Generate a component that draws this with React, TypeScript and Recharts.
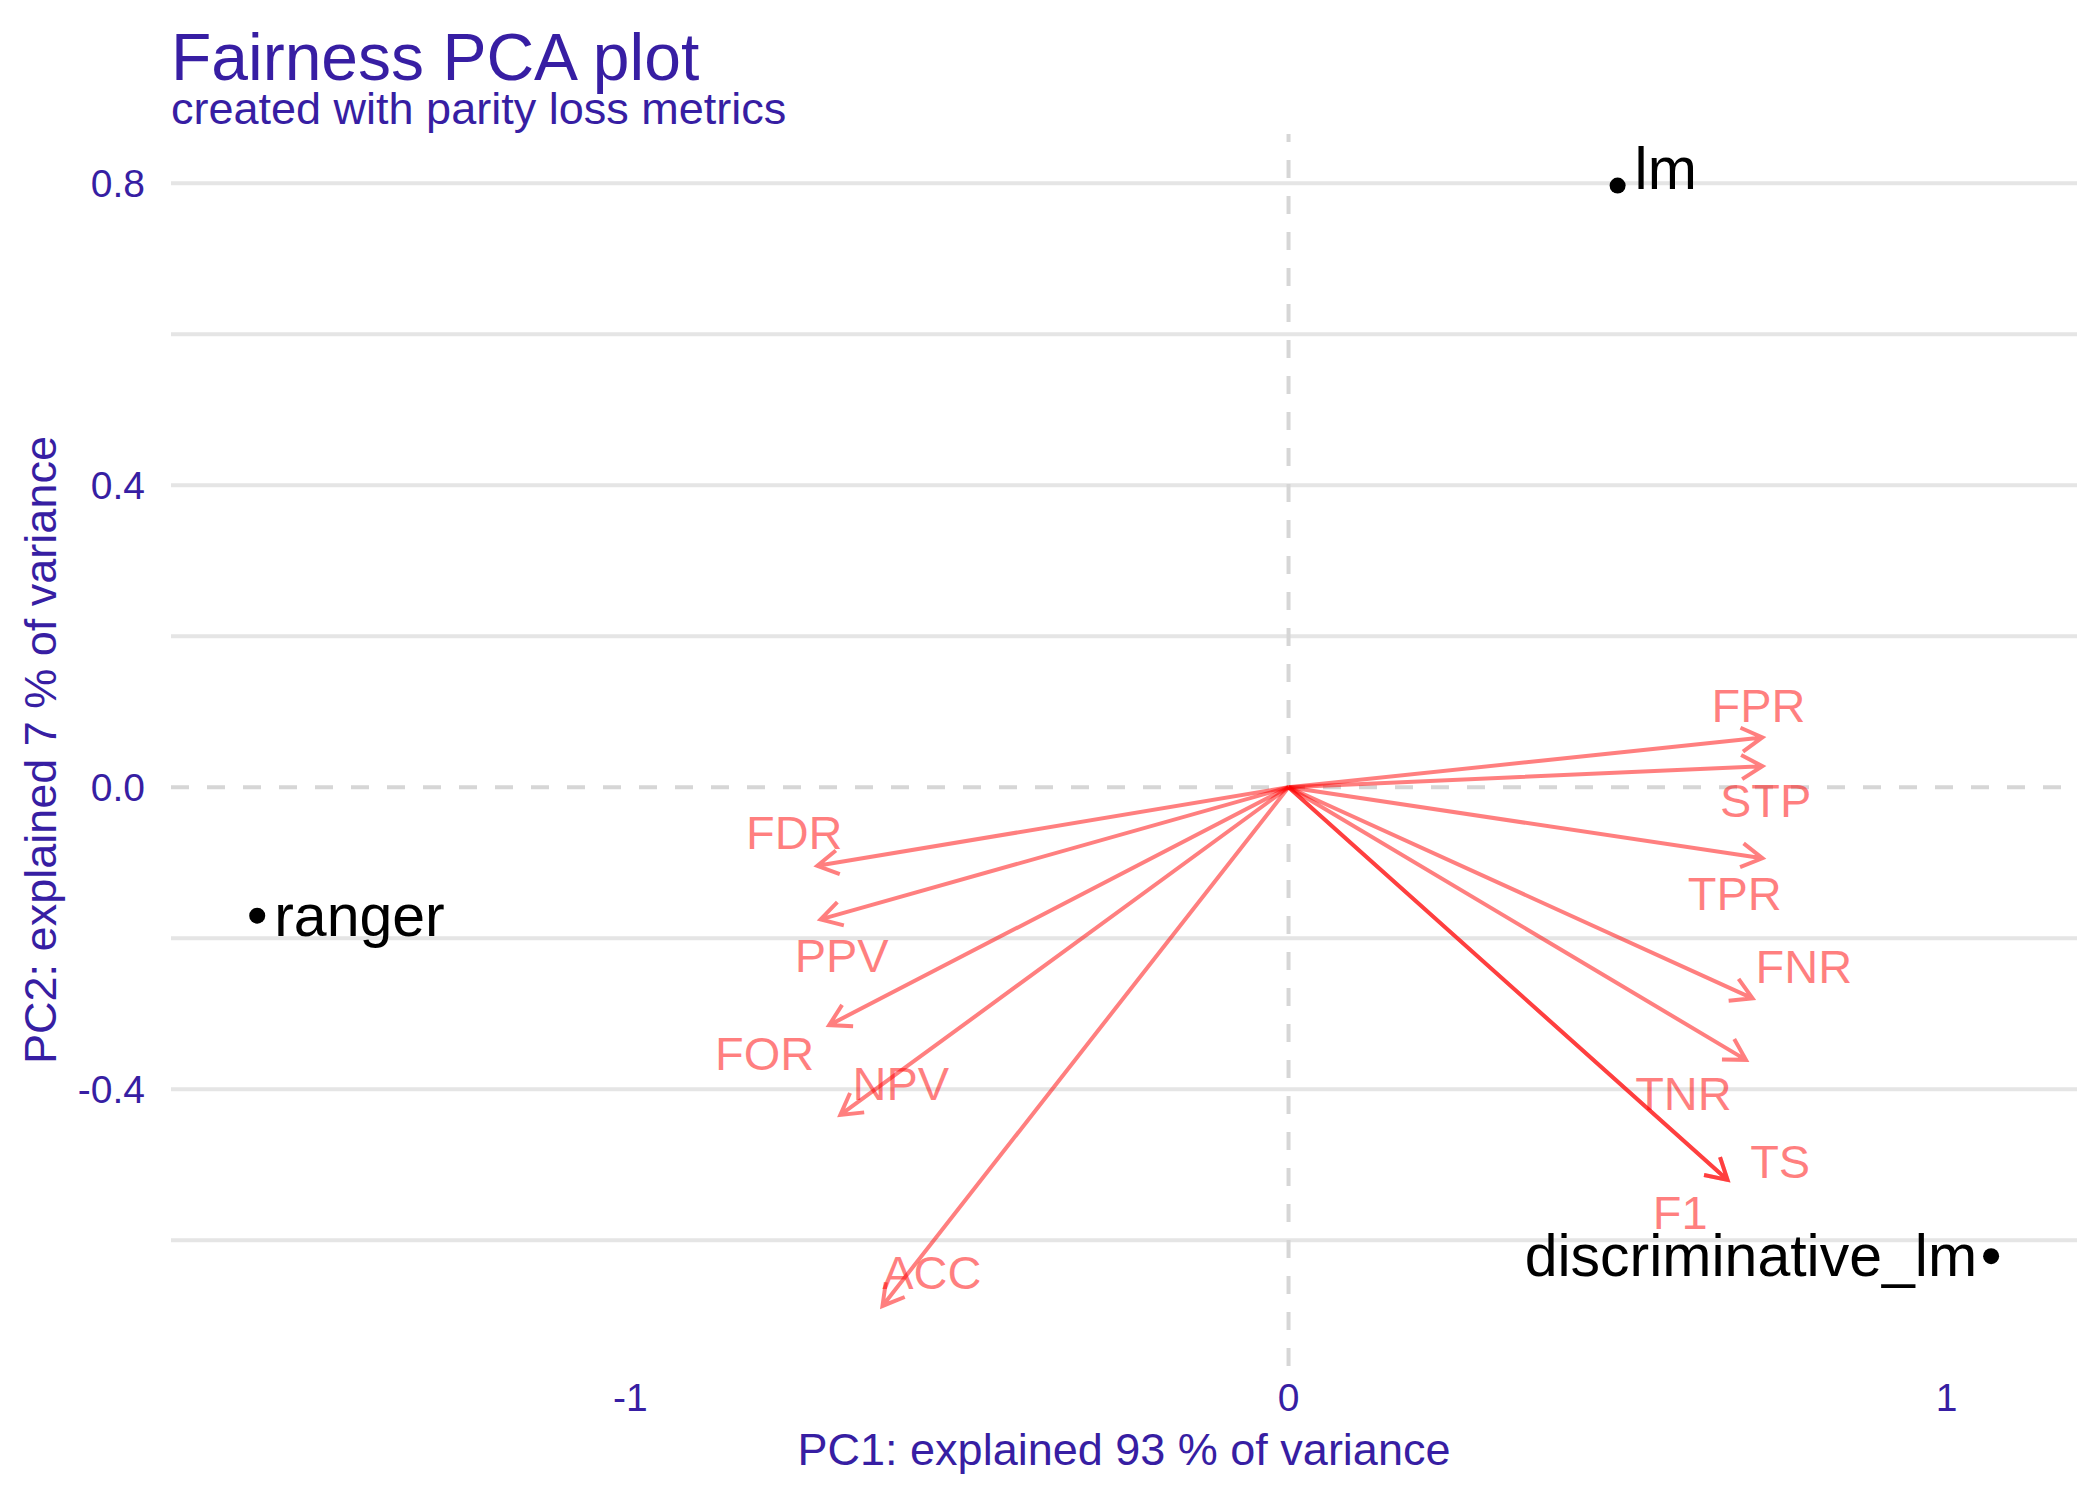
import React from 'react';
import {
  ScatterChart,
  Scatter,
  XAxis,
  YAxis,
  CartesianGrid,
  ReferenceLine,
} from 'recharts';

const FONT = '"Liberation Sans", Arial, Helvetica, sans-serif';
const PURPLE = '#371ea3';
const ARROW = 'rgba(255, 0, 0, 0.5)';

// model scores on the first two components
const modelNames = ['lm', 'ranger', 'discriminative_lm'];
const modelPC1 = [0.5, -1.567, 1.0675];
const modelPC2 = [0.797, -0.17, -0.621];

// parity loss metric loadings (arrow tips)
const metricNames = ['FPR', 'STP', 'TPR', 'FNR', 'TNR', 'TS', 'F1', 'FDR', 'PPV', 'FOR', 'NPV', 'ACC'];
const metricPC1 = [0.72, 0.72, 0.72, 0.705, 0.695, 0.667, 0.667, -0.716, -0.711, -0.698, -0.681, -0.617];
const metricPC2 = [0.066, 0.028, -0.094, -0.2795, -0.361, -0.52, -0.52, -0.104, -0.175, -0.315, -0.434, -0.687];

// repelled label positions for the metrics
const labelPC1 = [0.714, 0.725, 0.678, 0.783, 0.6, 0.747, 0.595, -0.751, -0.679, -0.796, -0.589, -0.542];
const labelPC2 = [0.109, -0.017, -0.14, -0.237, -0.405, -0.495, -0.562, -0.059, -0.222, -0.352, -0.392, -0.642];

const xTicks = [-1, 0, 1];
const yTicks = [-0.4, 0, 0.4, 0.8];
const yGrid = [-0.6, -0.4, -0.2, 0.2, 0.4, 0.6, 0.8];

const models = modelNames.map((name, i) => ({ name, x: modelPC1[i], y: modelPC2[i] }));
const metricLabels = metricNames.map((name, i) => ({ name, x: labelPC1[i], y: labelPC2[i] }));

// line + open arrow head, one path so the alpha doesn't stack on itself
const ArrowShape = (props: any) => {
  const { x1, y1, x2, y2 } = props;
  const ang = Math.atan2(y2 - y1, x2 - x1);
  const len = 24;
  const spread = Math.PI / 6;
  const ax = x2 - len * Math.cos(ang - spread);
  const ay = y2 - len * Math.sin(ang - spread);
  const bx = x2 - len * Math.cos(ang + spread);
  const by = y2 - len * Math.sin(ang + spread);
  return (
    <path
      d={`M${x1},${y1}L${x2},${y2}M${ax},${ay}L${x2},${y2}L${bx},${by}`}
      fill="none"
      stroke={ARROW}
      strokeWidth={4}
    />
  );
};

const MetricLabel = (props: any) => (
  <text
    x={props.cx}
    y={props.cy}
    dy="0.36em"
    textAnchor="middle"
    fill={ARROW}
    fontSize={47}
    fontFamily={FONT}
  >
    {props.payload.name}
  </text>
);

const placement: Record<string, { dx: number; dy: number; anchor: string }> = {
  lm: { dx: 17, dy: 3, anchor: 'start' },
  ranger: { dx: 17, dy: 20, anchor: 'start' },
  discriminative_lm: { dx: -14, dy: 20, anchor: 'end' },
};

const ModelPoint = (props: any) => {
  const p = placement[props.payload.name];
  return (
    <g>
      <circle cx={props.cx} cy={props.cy} r={8} fill="#000" />
      <text
        x={props.cx + p.dx}
        y={props.cy + p.dy}
        textAnchor={p.anchor as any}
        fill="#000"
        fontSize={59}
        fontFamily={FONT}
      >
        {props.payload.name}
      </text>
    </g>
  );
};

const tickStyle = { fill: PURPLE, fontSize: 39, fontFamily: FONT };

const App = () => {
  return (
    <div style={{ position: 'absolute', left: 0, top: 0, width: 2100, height: 1500, background: '#fff', fontFamily: FONT }}>
      <ScatterChart width={2100} height={1500} margin={{ top: 134, right: 23, bottom: 0, left: 0 }}>
        <CartesianGrid
          horizontal
          vertical={false}
          horizontalValues={yGrid}
          stroke="#e5e5e5"
          strokeWidth={4}
        />
        <XAxis
          type="number"
          dataKey="x"
          domain={[-1.698, 1.198]}
          allowDataOverflow
          ticks={xTicks}
          height={134}
          axisLine={false}
          tickLine={false}
          tickSize={8}
          tickMargin={9}
          tick={tickStyle}
        />
        <YAxis
          type="number"
          dataKey="y"
          domain={[-0.7665, 0.8653]}
          allowDataOverflow
          ticks={yTicks}
          width={171}
          axisLine={false}
          tickLine={false}
          tickSize={8}
          tickMargin={18}
          tick={tickStyle}
          tickFormatter={(v: number) => v.toFixed(1)}
        />
        <ReferenceLine x={0} stroke="#d6d6d6" strokeWidth={4} strokeDasharray="18 18" />
        <ReferenceLine y={0} stroke="#d6d6d6" strokeWidth={4} strokeDasharray="18 18" />
        {metricNames.map((name, i) => (
          <ReferenceLine
            key={name}
            segment={[
              { x: 0, y: 0 },
              { x: metricPC1[i], y: metricPC2[i] },
            ]}
            ifOverflow="visible"
            shape={ArrowShape}
          />
        ))}
        <Scatter data={metricLabels} shape={MetricLabel} isAnimationActive={false} />
        <Scatter data={models} shape={ModelPoint} isAnimationActive={false} />
      </ScatterChart>
      <svg
        width={2100}
        height={1500}
        style={{ position: 'absolute', left: 0, top: 0, pointerEvents: 'none' }}
      >
        <text x={171} y={80} fill={PURPLE} fontSize={66} fontFamily={FONT}>
          Fairness PCA plot
        </text>
        <text x={171} y={124} fill={PURPLE} fontSize={45} fontFamily={FONT}>
          created with parity loss metrics
        </text>
        <text x={1124} y={1465} textAnchor="middle" fill={PURPLE} fontSize={45} fontFamily={FONT}>
          PC1: explained 93 % of variance
        </text>
        <text
          transform="translate(56, 750) rotate(-90)"
          textAnchor="middle"
          fill={PURPLE}
          fontSize={45}
          fontFamily={FONT}
        >
          PC2: explained 7 % of variance
        </text>
      </svg>
    </div>
  );
};

export default App;
